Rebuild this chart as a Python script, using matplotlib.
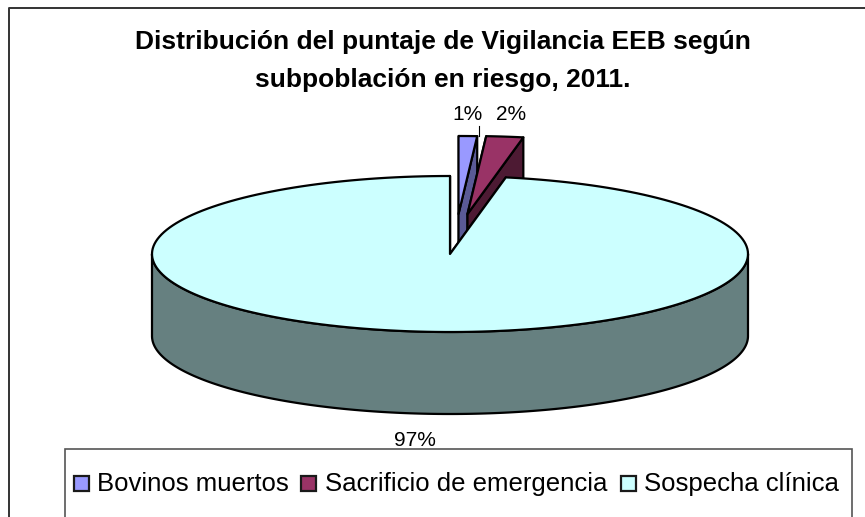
"""Exploded 3D-style pie of the EEB surveillance score by subpopulation."""

import numpy as np
import matplotlib

matplotlib.use("Agg")
import matplotlib.pyplot as plt
from matplotlib.patches import Polygon, Rectangle

categories = ["Bovinos muertos", "Sacrificio de emergencia", "Sospecha clínica"]
values = [1, 2, 97]
labels = ["1%", "2%", "97%"]

top_colors = ["#9999ff", "#993366", "#ccffff"]
side_colors = ["#5a5a96", "#4d1a33", "#668080"]

# pie geometry in pixels of the picture
CX, CY = 450, 254
RX, RY = 298, 78
DEPTH = 82
offsets = [(8.5, -40), (17.5, -40), (0, 0)]
label_pos = [(467, 115), (511, 114), (415, 440)]

plt.rcParams["font.family"] = ["Liberation Sans", "DejaVu Sans"]


def arc(start, end, dx=0, dy=0):
    """Points on the top ellipse, angles in degrees clockwise from 12 o'clock."""
    t = np.radians(np.linspace(start, end, 200))
    return np.column_stack([CX + dx + RX * np.sin(t), CY + dy - RY * np.cos(t)])


def draw_slice(ax, start, end, top, side, dx, dy, z):
    apex = np.array([CX + dx, CY + dy])
    edge = arc(start, end, dx, dy)
    down = np.array([0, DEPTH])
    kw = dict(edgecolor="black", linewidth=1.6, joinstyle="round", zorder=z)

    # cut faces first, then the rim on the near side, then the top
    for p in (edge[0], edge[-1]):
        ax.add_patch(Polygon([apex, p, p + down, apex + down], facecolor=side, **kw))
    if end > 90:
        front = arc(max(start, 90), min(end, 270), dx, dy)
        ax.add_patch(Polygon(np.vstack([front, (front + down)[::-1]]), facecolor=side, **kw))
    ax.add_patch(Polygon(np.vstack([apex, edge]), facecolor=top, **kw))


fig = plt.figure(figsize=(8.65, 5.17), dpi=100)
ax = fig.add_axes([0, 0, 1, 1])
ax.set_xlim(0, 865)
ax.set_ylim(517, 0)
ax.axis("off")

# chart frame runs off the right and bottom of the picture
ax.plot([9, 9, 865], [517, 7.5, 7.5], color="#333333", lw=1.4, zorder=1)

ax.text(443, 42, "Distribución del puntaje de Vigilancia EEB según", ha="center", va="center",
        fontsize=19, fontweight="bold")
ax.text(443, 80, "subpoblación en riesgo, 2011.", ha="center", va="center",
        fontsize=19, fontweight="bold")

angle = 0
for i, v in enumerate(values):
    sweep = 360 * v / sum(values)
    # exploded slices go first, the big slice sits in front of them
    draw_slice(ax, angle, angle + sweep, top_colors[i], side_colors[i],
               offsets[i][0], offsets[i][1], z=2 + i)
    angle += sweep

for text, (x, y) in zip(labels, label_pos):
    ax.text(x, y, text, ha="center", va="center", fontsize=15, zorder=8)
ax.plot([478.5, 478.5], [126, 136], color="black", lw=0.8, zorder=8)

# legend box, cut by the bottom of the picture
ax.add_patch(Rectangle((65, 448.5), 787, 90, facecolor="white", edgecolor="#555555", lw=1.2, zorder=7))
legend_x = [(74, 97), (301, 325), (621, 644)]
for name, color, (bx, tx) in zip(categories, top_colors, legend_x):
    ax.add_patch(Rectangle((bx, 476), 15, 15, facecolor=color, edgecolor="#1a1a1a", lw=1.6, zorder=8))
    ax.text(tx, 484, name, ha="left", va="center", fontsize=18.5, zorder=8)

fig.savefig("out.png", dpi=100)
